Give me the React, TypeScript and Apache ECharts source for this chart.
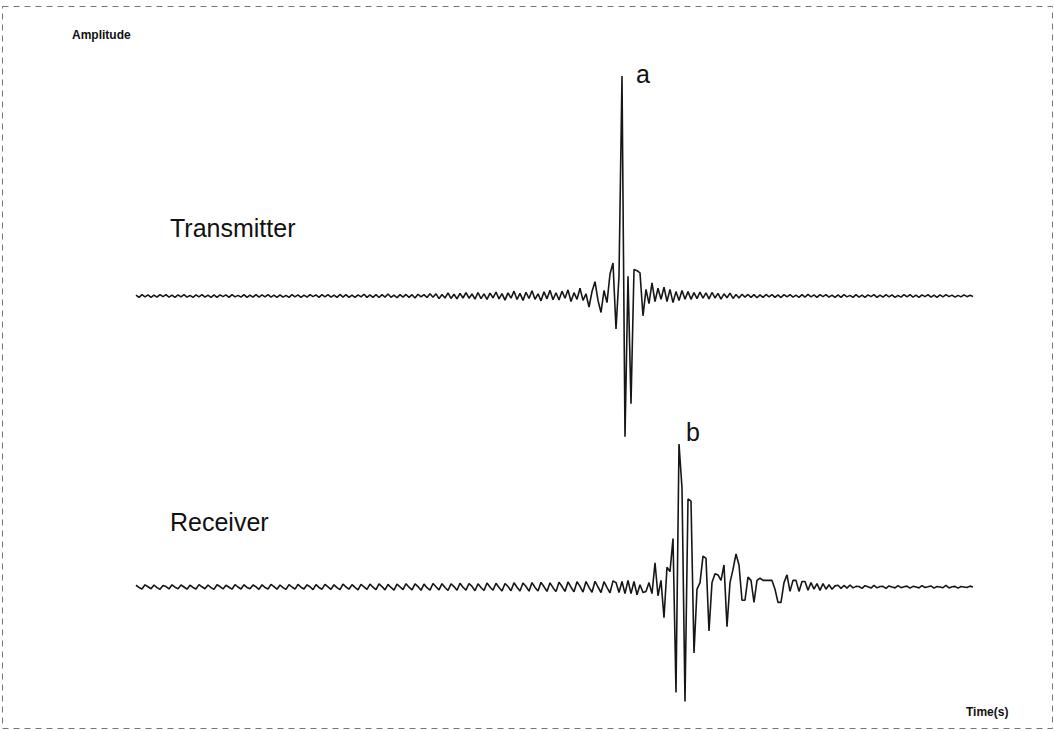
import { useEffect, useRef } from "react";
import * as echarts from "echarts";

// Transmitter amplitude samples (arbitrary units, 100 = peak "a")
const transmitter: number[] = [
  0.4, -0.6, 0.6, -0.4, 0.5, -0.6, 0.4, -0.5, 0.6, -0.3, 0.6, -0.5, 0.4, -0.6, 0.5, -0.4, 0.6, -0.5, 0.3, -0.6,
  0.5, -0.4, 0.6, -0.5, 0.4, -0.6, 0.5, -0.6, 0.5, -0.3, 0.5, -0.6, 0.6, -0.4, 0.3, -0.5, 0.6, -0.6, 0.4, -0.5,
  0.6, -0.5, 0.5, -0.4, 0.6, -0.5, 0.4, -0.6, 0.5, -0.5, 0.3, -0.6, 0.6, -0.4, 0.5, -0.6, 0.4, -0.5, 0.6, -0.3,
  0.5, -0.6, 0.6, -0.4, 0.6, -0.5, 0.4, -0.6, 0.7, -0.5, 0.6, -0.6, 0.4, -0.6, 0.5, -0.4, 0.8, -0.6, 0.5, -0.6,
  0.6, -0.7, 0.6, -0.5, 0.9, -0.6, 0.4, -0.8, 0.6, -0.5, 0.7, -0.6, 0.6, -0.9, 0.8, -0.4, 0.6, -0.7, 1.0, -0.6,
  1.0, -1.2, 0.7, -0.9, 1.4, -1.1, 0.8, -1.3, 1.2, -0.9, 1.5, -1.0, 0.9, -1.4, 1.6, -1.2, 1.0, -1.5, 1.3, -0.8,
  1.8, -1.3, 1.1, -1.9, 1.4, -1.0, 2.2, -1.6, 1.2, -2.0, 1.7, -1.1, 2.4, -1.5, 1.0, -2.2, 1.9, -1.3, 2.6, -1.7,
  1.5, -1.8, 2.2, -1.0, 2.8, -2.5, 1.5, -1.5, 3.5, -2.0, 1.0, -5.0, 2.0, 6.5, -2.0, -7.5, 2.5, -3.0, 10, 15,
  -15, 9, 100, -64, 9, -49, 12, 11.5, 10.5, -9, 3, -3.5, 6, -2.5, 3.5, -1.5, 4, -2.5, 3, -3,
  2, -2, 2.5, -1.5, 2, -1.5, 1.5, -1.2, 1.8, -1.0, 1.4, -1.3, 1.6, -0.9, 1.2, -1.4, 1.0, -0.8, 1.3, -1.1,
  0.7, -0.9, 0.8, -0.5, 0.7, -0.6, 0.6, -0.8, 0.5, -0.6, 0.7, -0.4, 0.6, -0.6, 0.5, -0.7, 0.6, -0.4, 0.6, -0.5,
  0.4, -0.6, 0.6, -0.5, 0.7, -0.4, 0.5, -0.6, 0.6, -0.3, 0.6, -0.5, 0.4, -0.6, 0.5, -0.6, 0.6, -0.4, 0.3, -0.6,
  0.6, -0.5, 0.4, -0.6, 0.5, -0.3, 0.6, -0.6, 0.4, -0.5, 0.6, -0.4, 0.5, -0.6, 0.3, -0.5, 0.6, -0.4, 0.6, -0.5,
  0.4, -0.6, 0.5, -0.3, 0.6, -0.5, 0.4, -0.6, 0.5, -0.4, 0.6, -0.3, 0.4, -0.5, 0.3, -0.4, 0.5, -0.3, 0.3, -0.2,
];

// Receiver amplitude samples (same units)
const receiver: number[] = [
  0.8, -0.2, -0.9, 1.0, 0.1, -0.8, 0.9, -0.3, -1.0, 0.7, 0.2, -0.9, 1.0, -0.1, -0.8, 0.9, 0.0, -1.0, 0.8, -0.2,
  -0.9, 1.1, 0.1, -0.8, 0.9, -0.3, -1.1, 1.0, 0.2, -0.9, 0.8, -0.1, -1.0, 1.1, 0.0, -0.9, 1.0, -0.2, -0.8, 0.9,
  0.1, -1.1, 1.0, -0.2, -0.9, 1.2, 0.2, -1.0, 0.9, -0.3, -1.1, 1.1, 0.0, -1.0, 1.2, -0.1, -0.9, 1.0, 0.1, -1.2,
  1.1, -0.2, -1.0, 1.2, 0.1, -1.1, 1.0, -0.3, -1.2, 1.3, 0.0, -1.0, 1.1, -0.2, -1.3, 1.2, 0.1, -1.1, 1.3, -0.1,
  -1.2, 1.4, 0.2, -1.3, 1.2, -0.2, -1.4, 1.3, 0.1, -1.2, 1.5, -0.1, -1.3, 1.4, 0.2, -1.5, 1.3, -0.3, -1.4, 1.6,
  0.1, -1.3, 1.5, -0.2, -1.6, 1.4, 0.2, -1.5, 1.7, -0.1, -1.4, 1.6, 0.3, -1.7, 1.5, -0.2, -1.6, 1.8, 0.0, -1.5,
  1.7, -0.2, -1.8, 1.6, 0.2, -1.7, 1.9, -0.1, -1.8, 1.8, 0.2, -1.9, 2.0, -0.2, -1.8, 2.1, 0.1, -2.0, 1.9, -0.3,
  -2.1, 2.2, 0.2, -2.0, 2.3, -0.1, -2.2, 2.4, 0.3, -2.3, 2.5, -0.2, -2.4, 2.6, 0.0, -2.5, 2.4, -0.3, -2.6, 2.8,
  2.0, -2.5, 2.5, -3.0, 3.0, -3.0, 2.5, -3.5, 1.0, -2.5, -2.0, 2.0, -3.0, 11, -4, 3, -14, 9, 7, 22,
  -48, 65, 45, -52, 40, 39, -30, -1, 2, 14, 13, -20, 2, 6, 5.5, 3, 10, -18, 2, 8,
  15, 10, -6, -6, 4.5, 3, -7, 3, 4, 3, 3, 3, 3, -1, -7, -7, 2, 5.5, -2, 3,
  3, -2, 2.5, 2.5, -1.5, 2, -1, 1.5, -1.5, 1.5, -1, 1, -1, 0.5, 0.8, -0.6, 0.7, -0.5, 0.9, -0.4,
  0.3, 0.2, -0.6, 0.6, 0.1, -0.5, 0.7, -0.4, 0.2, 0.3, -0.6, 0.5, 0.0, -0.4, 0.6, -0.3, 0.1, 0.4, -0.5, 0.3,
  0.0, -0.4, 0.6, -0.2, 0.1, 0.5, -0.5, 0.2, 0.0, -0.3, 0.7, -0.4, 0.1, 0.3, -0.5, 0.2, 0.0, -0.2, 0.4, 0.0,
];

const axisTitles = { y: "Amplitude", x: "Time(s)" };
const signalLabels = ["Transmitter", "Receiver"];
const peakLabels = ["a", "b"];

const FONT = "'Liberation Sans', Arial, sans-serif";

export default function App() {
  const ref = useRef<HTMLDivElement>(null);
  useEffect(() => {
    document.body.style.margin = "0";
    const chart = echarts.init(ref.current!, null, { renderer: "svg" });
    const toPairs = (arr: number[]) => arr.map((v, i) => [i, v]);
    const lineStyle = { color: "#161616", width: 1.6 };
    const textStyle = (txt: string, size: number, weight: any = "normal") => ({
      text: txt,
      fontSize: size,
      fontFamily: FONT,
      fontWeight: weight,
      fill: "#111",
      textVerticalAlign: "middle",
    });
    chart.setOption({
      animation: false,
      backgroundColor: "#ffffff",
      grid: [
        { left: 136, top: 76, width: 837, height: 440 },
        { left: 136, top: 367, width: 837, height: 352 },
      ],
      xAxis: [
        { type: "value", gridIndex: 0, min: 0, max: transmitter.length - 1, show: false },
        { type: "value", gridIndex: 1, min: 0, max: receiver.length - 1, show: false },
      ],
      yAxis: [
        { type: "value", gridIndex: 0, min: -100, max: 100, show: false },
        { type: "value", gridIndex: 1, min: -60, max: 100, show: false },
      ],
      series: [
        {
          name: signalLabels[0],
          type: "line",
          xAxisIndex: 0,
          yAxisIndex: 0,
          data: toPairs(transmitter),
          showSymbol: false,
          symbol: "none",
          lineStyle,
        },
        {
          name: signalLabels[1],
          type: "line",
          xAxisIndex: 1,
          yAxisIndex: 1,
          data: toPairs(receiver),
          showSymbol: false,
          symbol: "none",
          lineStyle,
        },
      ],
      graphic: [
        {
          type: "rect",
          shape: { x: 2.5, y: 6.5, width: 1050, height: 722 },
          style: { fill: "none", stroke: "#777", lineWidth: 1, lineDash: [6, 5] },
        },
        { type: "text", x: 72, y: 35, style: textStyle(axisTitles.y, 12, "bold") },
        { type: "text", x: 966, y: 712, style: textStyle(axisTitles.x, 12, "bold") },
        { type: "text", x: 170, y: 228, style: textStyle(signalLabels[0], 25) },
        { type: "text", x: 170, y: 522, style: textStyle(signalLabels[1], 25) },
        { type: "text", x: 636, y: 74, style: textStyle(peakLabels[0], 25) },
        { type: "text", x: 686, y: 432, style: textStyle(peakLabels[1], 25) },
      ],
    });
    return () => chart.dispose();
  }, []);
  return <div ref={ref} style={{ width: 1055, height: 731 }} />;
}
